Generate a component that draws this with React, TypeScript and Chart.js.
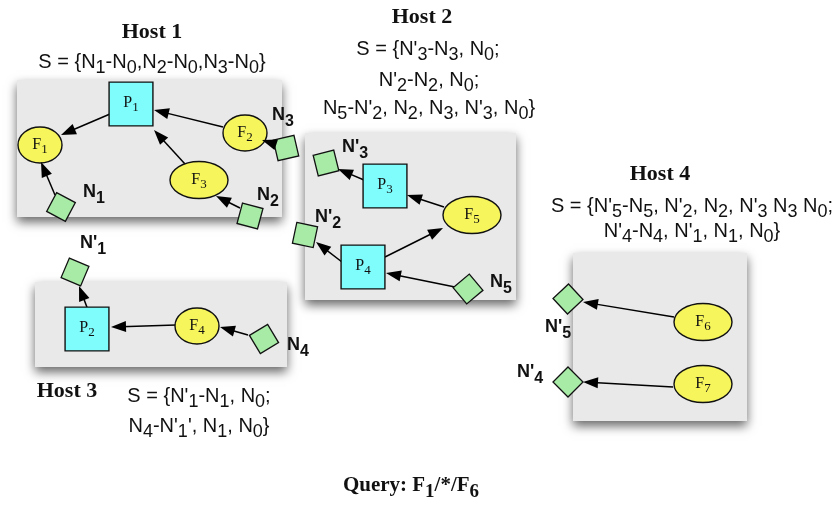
import React, { useEffect, useRef } from "react";
import { Chart, registerables } from "chart.js";

Chart.register(...registerables);

// ---- Hosts (boxes + titles) ----
const hostTitles = ["Host 1", "Host 2", "Host 3", "Host 4"];
const hostTitleX = [152, 422, 67, 660];
const hostTitleY = [30, 15, 389, 172];
const hostLeft = [17, 305, 35, 573];
const hostRight = [282, 516, 287, 747];
const hostTop = [80, 133, 282, 253];
const hostBottom = [217, 300, 367, 421];

// ---- Set descriptions ("_" marks a subscript digit) ----
const setLines = [
  "S = {N_1-N_0,N_2-N_0,N_3-N_0}",
  "S = {N'_3-N_3, N_0;",
  "N'_2-N_2, N_0;",
  "N_5-N'_2, N_2, N_3, N'_3, N_0}",
  "S = {N'_1-N_1, N_0;",
  "N_4-N'_1', N_1, N_0}",
  "S = {N'_5-N_5, N'_2, N_2, N'_3 N_3 N_0;",
  "N'_4-N_4, N'_1, N_1, N_0}",
];
const setX = [152, 428, 429, 429, 199, 199, 692, 692];
const setY = [61, 48, 79, 107, 395, 425, 205, 230];

// ---- Processes (cyan squares) ----
const procLabels = ["P_1", "P_2", "P_3", "P_4"];
const procX = [131, 87, 385, 363];
const procY = [104, 329, 186, 267];

// ---- Filters (yellow ellipses) ----
const filterLabels = ["F_1", "F_2", "F_3", "F_4", "F_5", "F_6", "F_7"];
const filterX = [40, 245, 199, 197, 472, 703, 703];
const filterY = [145, 133, 180, 326, 215, 322, 384];
const filterWide = [false, false, true, false, true, true, true];

// ---- Network nodes (green diamonds) ----
const nodeLabels = ["N_1", "N_2", "N_3", "N'_3", "N'_2", "N_5", "N'_5", "N'_4", "N'_1", "N_4"];
const nodeX = [61, 250, 286, 326, 305, 468, 568, 568, 75, 264];
const nodeY = [207, 216, 148, 163, 235, 289, 299, 382, 272, 339];
const nodeRotation = [28, 15, -13, -14, 12, -40, 47, 45, 23, -31];
const nodeLabelX = [83, 257, 272, 342, 315, 490, 545, 517, 80, 287];
const nodeLabelY = [191, 194, 114, 146, 216, 281, 326, 371, 242, 344];

// ---- Arrows (from -> tip) ----
const arrowFromX = [110, 55, 223, 185, 283, 240, 364, 444, 385, 342, 455, 674, 673, 88, 176, 248];
const arrowFromY = [114, 195, 127, 164, 147, 208, 180, 207, 257, 262, 287, 317, 387, 310, 325, 335];
const arrowToX = [61, 41, 154, 154, 262, 216, 338, 407, 443, 316, 386, 583, 583, 79, 111, 220];
const arrowToY = [135, 162, 110, 130, 140, 196, 169, 195, 228, 242, 273, 302, 382, 286, 327, 327];

const queryText = "Query: F_1/*/F_6";
const queryX = 411;
const queryY = 484;

type Seg = { t: string; sub: boolean };
function parseRich(s: string): Seg[] {
  const segs: Seg[] = [];
  let cur = "";
  let i = 0;
  while (i < s.length) {
    if (s[i] === "_" && i + 1 < s.length) {
      if (cur) segs.push({ t: cur, sub: false });
      cur = "";
      segs.push({ t: s[i + 1], sub: true });
      i += 2;
    } else {
      cur += s[i];
      i++;
    }
  }
  if (cur) segs.push({ t: cur, sub: false });
  return segs;
}

type TextStyle = { size: number; sub: number; dy: number; family: string; weight: string };
const SANS = "'Liberation Sans', Arial, Helvetica, sans-serif";
const SERIF = "'Liberation Serif', 'Times New Roman', serif";
const titleStyle: TextStyle = { size: 22, sub: 22, dy: 0, family: SERIF, weight: "bold" };
const setStyle: TextStyle = { size: 20, sub: 18, dy: 5, family: SANS, weight: "normal" };
const nodeStyle: TextStyle = { size: 18, sub: 16, dy: 6, family: SANS, weight: "bold" };
const shapeStyle: TextStyle = { size: 16, sub: 13, dy: 4, family: SERIF, weight: "normal" };
const queryStyle: TextStyle = { size: 21, sub: 19, dy: 6, family: SERIF, weight: "bold" };

function drawRich(
  ctx: CanvasRenderingContext2D,
  s: string,
  x: number,
  yMid: number,
  st: TextStyle,
  align: "center" | "left"
) {
  const segs = parseRich(s);
  const mainFont = `${st.weight} ${st.size}px ${st.family}`;
  const subFont = `${st.weight} ${st.sub}px ${st.family}`;
  const widths = segs.map((g) => {
    ctx.font = g.sub ? subFont : mainFont;
    return ctx.measureText(g.t).width;
  });
  const total = widths.reduce((a, b) => a + b, 0);
  let cx = align === "center" ? x - total / 2 : x;
  const base = yMid + st.size * 0.35;
  ctx.fillStyle = "#111";
  ctx.textAlign = "left";
  ctx.textBaseline = "alphabetic";
  segs.forEach((g, i) => {
    ctx.font = g.sub ? subFont : mainFont;
    ctx.fillText(g.t, cx, g.sub ? base + st.dy : base);
    cx += widths[i];
  });
}

const diagramPlugin = {
  id: "diagram",
  beforeDatasetsDraw(chart: any) {
    const { ctx } = chart;
    const xs = chart.scales.x;
    const ys = chart.scales.y;
    hostLeft.forEach((_, i) => {
      const x0 = xs.getPixelForValue(hostLeft[i]);
      const x1 = xs.getPixelForValue(hostRight[i]);
      const y0 = ys.getPixelForValue(hostTop[i]);
      const y1 = ys.getPixelForValue(hostBottom[i]);
      ctx.save();
      ctx.shadowColor = "rgba(0,0,0,0.6)";
      ctx.shadowBlur = 10;
      ctx.shadowOffsetX = 0;
      ctx.shadowOffsetY = 5;
      ctx.fillStyle = "#e9e9e9";
      ctx.fillRect(x0, y0, x1 - x0, y1 - y0);
      ctx.restore();
    });
  },
  afterDatasetsDraw(chart: any) {
    const { ctx } = chart;
    const xs = chart.scales.x;
    const ys = chart.scales.y;
    // ellipses
    filterX.forEach((_, i) => {
      const cx = xs.getPixelForValue(filterX[i]);
      const cy = ys.getPixelForValue(filterY[i]);
      const rx = filterWide[i] ? 29 : 22;
      const ry = filterWide[i] ? 18.5 : 18;
      ctx.save();
      ctx.beginPath();
      ctx.ellipse(cx, cy, rx, ry, 0, 0, Math.PI * 2);
      ctx.fillStyle = "#f6f55c";
      ctx.fill();
      ctx.lineWidth = 1.4;
      ctx.strokeStyle = "#111";
      ctx.stroke();
      ctx.restore();
      drawRich(ctx, filterLabels[i], cx, cy - 2, shapeStyle, "center");
    });
    // arrow heads
    arrowToX.forEach((_, i) => {
      const fx = xs.getPixelForValue(arrowFromX[i]);
      const fy = ys.getPixelForValue(arrowFromY[i]);
      const tx = xs.getPixelForValue(arrowToX[i]);
      const ty = ys.getPixelForValue(arrowToY[i]);
      const a = Math.atan2(ty - fy, tx - fx);
      const L = 15;
      const W = 5.5;
      const bx = tx - Math.cos(a) * L;
      const by = ty - Math.sin(a) * L;
      ctx.save();
      ctx.beginPath();
      ctx.moveTo(tx, ty);
      ctx.lineTo(bx + Math.sin(a) * W, by - Math.cos(a) * W);
      ctx.lineTo(bx - Math.sin(a) * W, by + Math.cos(a) * W);
      ctx.closePath();
      ctx.fillStyle = "#000";
      ctx.fill();
      ctx.restore();
    });
    // process labels
    procX.forEach((_, i) => {
      drawRich(ctx, procLabels[i], xs.getPixelForValue(procX[i]), ys.getPixelForValue(procY[i]) - 3, shapeStyle, "center");
    });
    // node labels
    nodeLabels.forEach((lab, i) => {
      drawRich(ctx, lab, xs.getPixelForValue(nodeLabelX[i]), ys.getPixelForValue(nodeLabelY[i]), nodeStyle, "left");
    });
    // titles
    hostTitles.forEach((t, i) => {
      drawRich(ctx, t, xs.getPixelForValue(hostTitleX[i]), ys.getPixelForValue(hostTitleY[i]), titleStyle, "center");
    });
    // sets
    setLines.forEach((t, i) => {
      drawRich(ctx, t, xs.getPixelForValue(setX[i]), ys.getPixelForValue(setY[i]), setStyle, "center");
    });
    drawRich(ctx, queryText, xs.getPixelForValue(queryX), ys.getPixelForValue(queryY), queryStyle, "center");
  },
};

export default function App() {
  const ref = useRef<HTMLCanvasElement | null>(null);
  useEffect(() => {
    if (!ref.current) return;
    const procData = procX.map((x, i) => ({ x, y: procY[i] }));
    const nodeData = nodeX.map((x, i) => ({ x, y: nodeY[i] }));
    const arrowSets = arrowFromX.map((_, i) => {
      const a = Math.atan2(arrowToY[i] - arrowFromY[i], arrowToX[i] - arrowFromX[i]);
      return {
        label: "arrow" + i,
        data: [
          { x: arrowFromX[i], y: arrowFromY[i] },
          { x: arrowToX[i] - Math.cos(a) * 10, y: arrowToY[i] - Math.sin(a) * 10 },
        ],
        showLine: true,
        borderColor: "#000",
        borderWidth: 1.5,
        pointRadius: 0,
        pointHoverRadius: 0,
        fill: false,
        clip: false,
      };
    });
    const chart = new Chart(ref.current, {
      type: "scatter",
      data: {
        datasets: [
          {
            label: "processes",
            data: procData,
            pointStyle: "rect",
            pointRadius: 31,
            pointHoverRadius: 31,
            backgroundColor: "#7ffcfc",
            borderColor: "#111",
            borderWidth: 1.4,
            clip: false,
          },
          {
            label: "nodes",
            data: nodeData,
            pointStyle: "rect",
            pointRadius: 15,
            pointHoverRadius: 15,
            rotation: nodeRotation,
            backgroundColor: "#a7eba7",
            borderColor: "#111",
            borderWidth: 1.3,
            clip: false,
          } as any,
          ...arrowSets,
        ],
      },
      options: {
        animation: false,
        responsive: false,
        events: [],
        layout: { padding: 0, autoPadding: false },
        plugins: { legend: { display: false }, tooltip: { enabled: false } },
        scales: {
          x: { type: "linear", min: 0, max: 834, display: false },
          y: { type: "linear", min: 0, max: 508, reverse: true, display: false },
        },
      } as any,
      plugins: [diagramPlugin],
    });
    return () => chart.destroy();
  }, []);
  return (
    <div style={{ position: "absolute", left: 0, top: 0, width: 834, height: 508, background: "#fff" }}>
      <canvas ref={ref} width={834} height={508} />
    </div>
  );
}
